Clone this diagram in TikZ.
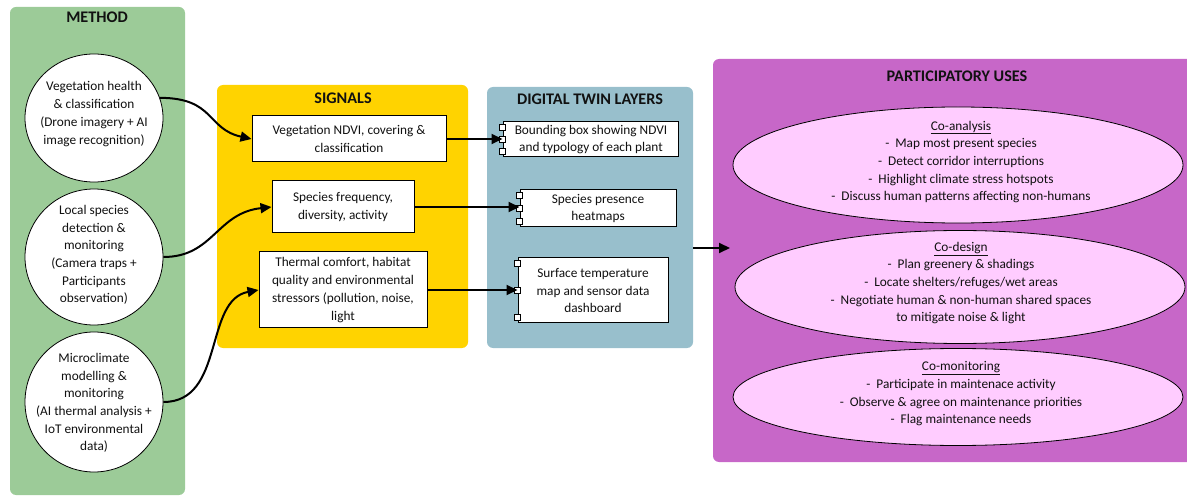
\documentclass[tikz,border=0pt]{standalone}
\usepackage{fontspec}
\setmainfont{Carlito}
\usetikzlibrary{shapes.geometric,arrows.meta,calc}
\definecolor{mgreen}{HTML}{9CCB98}
\definecolor{syellow}{HTML}{FFD300}
\definecolor{dblue}{HTML}{98BFCC}
\definecolor{ppurple}{HTML}{C767C8}
\definecolor{ppink}{HTML}{FFCCFF}
\definecolor{txt}{HTML}{111111}
\begin{document}
\begin{tikzpicture}[x=1pt,y=-1pt,
  every node/.style={font=\fontsize{13.3}{17.7}\selectfont, text=txt},
  panel/.style={draw=none, rounded corners=6pt, inner sep=0pt},
  ptitle/.style={font=\fontsize{16.2}{19}\selectfont\bfseries, inner sep=0pt},
  lbl/.style={align=center, inner sep=0pt},
  circ/.style={ellipse, draw=black, fill=white, inner sep=0pt, line width=0.8pt},
  uell/.style={ellipse, draw=black, fill=ppink, inner sep=0pt, line width=0.8pt},
  sbox/.style={rectangle, draw=black, fill=white, inner sep=0pt, line width=1pt},
  tabbox/.style={rectangle, draw=black, fill=white, inner sep=0pt, minimum width=5.5pt, minimum height=6.5pt, line width=0.7pt},
  conn/.style={draw=black, line width=2pt, -{Triangle[length=11pt,width=10pt]}}
]
\useasboundingbox (0,0) rectangle (1187,497);

% panels
\node[panel, fill=mgreen, minimum width=175pt, minimum height=488pt] (mp) at (97.5,251) {};
\node[panel, fill=syellow, minimum width=251pt, minimum height=263pt] (sp) at (342.5,216.5) {};
\node[panel, fill=dblue, minimum width=206pt, minimum height=261pt] (dp) at (590,217.5) {};
\node[panel, fill=ppurple, minimum width=490pt, minimum height=403pt] (pp) at (958,260.5) {};

% titles
\node[ptitle] (mpt) at (97,17) {METHOD};
\node[ptitle] (spt) at (343,98) {SIGNALS};
\node[ptitle] (dpt) at (590,99) {DIGITAL TWIN LAYERS};
\node[ptitle] (ppt) at (957,76) {PARTICIPATORY USES};

% method circles
\node[circ, minimum width=138pt, minimum height=128pt] (m1) at (94,118) {};
\node[lbl] (m1t) at (94,114) {Vegetation health\\ \& classification\\ (Drone imagery + AI\\ image recognition)};
\node[circ, minimum width=138pt, minimum height=136pt] (m2) at (94,257) {};
\node[lbl] (m2t) at (94,255) {Local species\\ detection \&\\ monitoring\\ (Camera traps +\\ Participants\\ observation)};
\node[circ, minimum width=138pt, minimum height=140pt] (m3) at (94,402) {};
\node[lbl] (m3t) at (94,403) {Microclimate\\ modelling \&\\ monitoring\\ (AI thermal analysis +\\ IoT environmental\\ data)};

% signal boxes
\node[sbox, minimum width=194pt, minimum height=46pt] (s1) at (349,139) {};
\node[lbl] (s1t) at (349,139) {Vegetation NDVI, covering \&\\ classification};
\node[sbox, minimum width=142pt, minimum height=52pt] (s2) at (343,207) {};
\node[lbl] (s2t) at (343,207) {Species frequency,\\ diversity, activity};
\node[sbox, minimum width=168pt, minimum height=76pt] (s3) at (343,290) {};
\node[lbl] (s3t) at (343,290) {Thermal comfort, habitat\\ quality and environmental\\ stressors (pollution, noise,\\ light};

% digital twin boxes
\node[sbox, minimum width=175pt, minimum height=35pt] (d1) at (590.5,139.5) {};
\node[lbl] (d1t) at (591,139.5) {Bounding box showing NDVI\\ and typology of each plant};
\node[sbox, minimum width=156pt, minimum height=37pt] (d2) at (598,208.5) {};
\node[lbl] (d2t) at (598,208.5) {Species presence\\ heatmaps};
\node[sbox, minimum width=150pt, minimum height=65pt] (d3) at (593,290.5) {};
\node[lbl] (d3t) at (593,290.5) {Surface temperature\\ map and sensor data\\ dashboard};
\foreach \d in {d1,d2,d3}{
  \node[tabbox] (\d-ta) at ($(\d.north west)+(0,6)$) {};
  \node[tabbox] (\d-tb) at (\d.west) {};
  \node[tabbox] (\d-tc) at ($(\d.south west)+(0,-6)$) {};
}

% participatory ellipses
\node[uell, minimum width=450pt, minimum height=116pt] (e1) at (958,165) {};
\node[lbl] (e1t) at (961,162) {\underline{Co-analysis}\\ -\ \ Map most present species\\ -\ \ Detect corridor interruptions\\ -\ \ Highlight climate stress hotspots\\ -\ \ Discuss human patterns affecting non-humans};
\node[uell, minimum width=450pt, minimum height=113pt] (e2) at (960,287) {};
\node[lbl] (e2t) at (961,283) {\underline{Co-design}\\ -\ \ Plan greenery \& shadings\\ -\ \ Locate shelters/refuges/wet areas\\ -\ \ Negotiate human \& non-human shared spaces\\ to mitigate noise \& light};
\node[uell, minimum width=450pt, minimum height=97pt] (e3) at (958,397) {};
\node[lbl] (e3t) at (961,394) {\underline{Co-monitoring}\\ -\ \ Participate in maintenace activity\\ -\ \ Observe \& agree on maintenance priorities\\ -\ \ Flag maintenance needs};

% connectors
\draw[conn] (m1.17) .. controls +(55,0) and +(-45,-10) .. (s1.west);
\draw[conn] (m2.east) .. controls +(50,0) and +(-55,6) .. (s2.west);
\draw[conn] (m3.east) .. controls +(62,0) and +(-55,10) .. (s3.west);
\draw[conn] (s1.east) -- (s1.east -| d1.west);
\draw[conn] (s2.east) -- (s2.east -| d2.west);
\draw[conn] (s3.east) -- (s3.east -| d3.west);
\coordinate (a1) at (730,248);
\draw[conn] (dp.east |- a1) -- (a1);
\end{tikzpicture}
\end{document}
